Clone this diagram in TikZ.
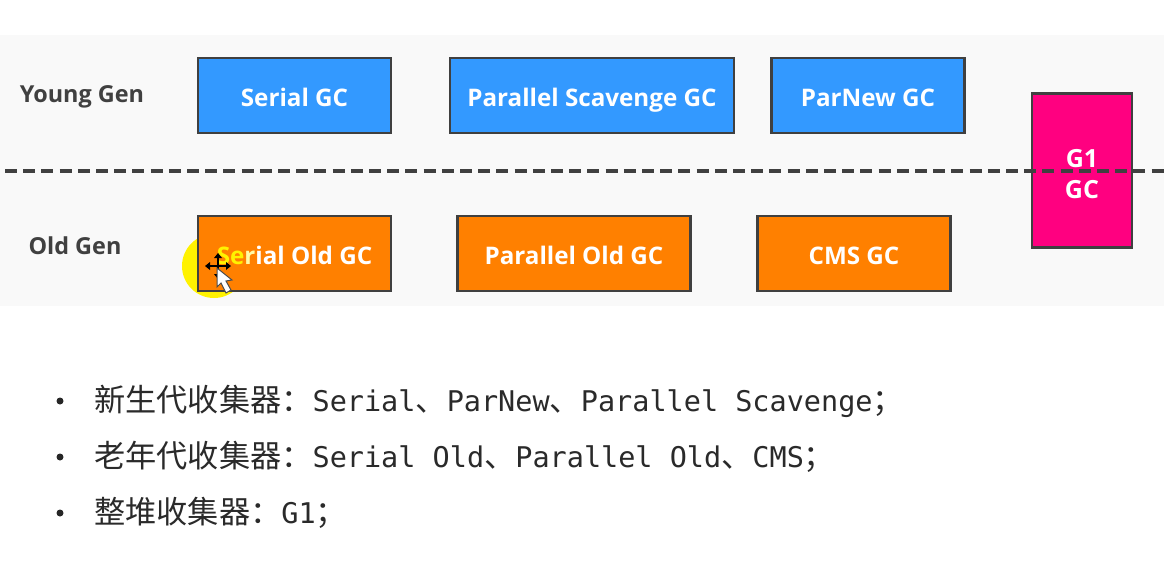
\documentclass[tikz,border=0pt]{standalone}
\usepackage{fontspec}
\setmainfont{Open Sans}
\newfontfamily\cjkf{Noto Sans CJK SC}
\newfontfamily\monof{DejaVu Sans Mono}
\definecolor{bluebox}{HTML}{3399FF}
\definecolor{orangebox}{HTML}{FF8000}
\definecolor{pinkbox}{HTML}{FF0080}
\definecolor{edgec}{HTML}{404040}
\definecolor{band}{HTML}{F9F9F9}
\definecolor{labc}{HTML}{404040}
\definecolor{listc}{HTML}{2A2A2A}
\tikzset{
  gcbox/.style={draw=edgec,line width=2.6pt,minimum height=75pt,inner sep=0pt,text=white,
     text height=22pt,text depth=0pt,font=\fontsize{24.2}{28}\selectfont\bfseries},
  yg/.style={gcbox,fill=bluebox},
  og/.style={gcbox,fill=orangebox},
  gen/.style={text=labc,inner sep=0pt,font=\fontsize{23.4}{26}\selectfont\bfseries},
  item/.style={anchor=west,inner sep=0pt,text=listc},
  dot/.style={circle,fill=black!85,inner sep=0pt,minimum size=7pt},
}
\newcommand{\cn}[1]{{\cjkf\fontsize{31.2}{34}\selectfont #1}}
\newcommand{\mo}[1]{{\monof\fontsize{28.5}{34}\selectfont #1}}
\begin{document}
\begin{tikzpicture}[x=1pt,y=-1pt]
\useasboundingbox (0,0) rectangle (1164,565);
\fill[white] (0,0) rectangle (1164,565);
\fill[band] (0,35) rectangle (1164,306);
\fill[yellow] (214,266) circle (32);
\node[gen] (young) at (82,97) {Young Gen};
\node[gen] (old) at (75,246) {Old Gen};
\node[yg,minimum width=193pt] (serial) at (294.5,95.5) {Serial GC};
\node[yg,minimum width=284pt] (scav) at (592,95.5) {Parallel Scavenge GC};
\node[yg,minimum width=193pt] (parnew) at (868,95.5) {ParNew GC};
\node[og,minimum width=193pt] (sold) at (294.5,253.5) {\textcolor{yellow}{Se}\textcolor{yellow!35!white}{r}ial Old GC};
\node[og,minimum width=233pt] (pold) at (574,253.5) {Parallel Old GC};
\node[og,minimum width=193pt] (cms) at (854,253.5) {CMS GC};
\node[draw=edgec,line width=2.6pt,fill=pinkbox,minimum width=100pt,minimum height=154pt,inner sep=0pt,
  align=center,text=white,font=\fontsize{25}{31}\selectfont\bfseries] (g1) at (1082,170.5)
  {\rule{0pt}{24.5pt}G1\\GC};
\coordinate (dl) at (5,171);
\coordinate (dr) at (1164,171);
\draw[edgec,line width=3.2pt,dash pattern=on 12pt off 6.2pt] (dl) -- (dr);
% cursor
\begin{scope}[shift={(218,266)}]
  \draw[black,line width=1.2pt] (-10,0) -- (10,0) (0,-10) -- (0,10);
  \fill[black] (-13,0) -- (-8,-4) -- (-8,4) -- cycle (13,0) -- (8,-4) -- (8,4) -- cycle
     (0,-13) -- (-4,-8) -- (4,-8) -- cycle (0,13) -- (-4,8) -- (4,8) -- cycle;
  \draw[black!70,fill=white,line width=1pt] (-1,2) -- (-1,21) -- (3,17) -- (8,27) -- (13,24) -- (8,15) -- (14,14) -- cycle;
\end{scope}
\node[dot] (b1) at (60,401) {};
\node[dot] (b2) at (60,457) {};
\node[dot] (b3) at (60,513) {};
\node[item] (t1) at (94,401) {\cn{新生代收集器：}\mo{Serial}\cn{、}\mo{ParNew}\cn{、}\mo{Parallel Scavenge}\cn{；}};
\node[item] (t2) at (94,457) {\cn{老年代收集器：}\mo{Serial Old}\cn{、}\mo{Parallel Old}\cn{、}\mo{CMS}\cn{；}};
\node[item] (t3) at (94,513) {\cn{整堆收集器：}\mo{G1}\cn{；}};
\end{tikzpicture}
\end{document}
